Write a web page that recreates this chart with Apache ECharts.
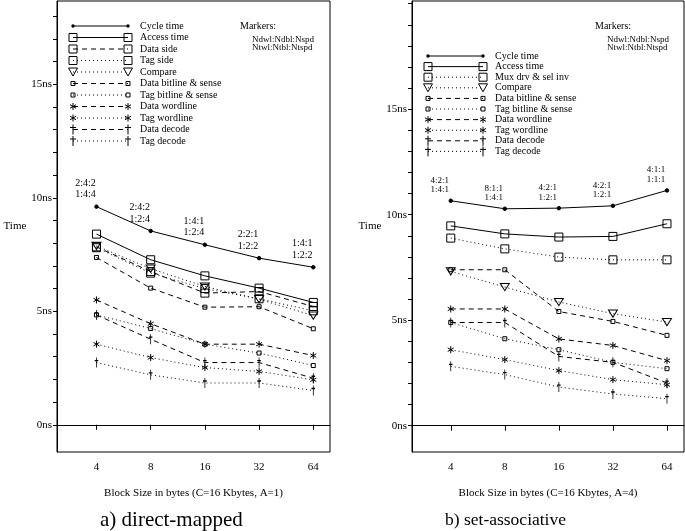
<!DOCTYPE html>
<head>
    <meta charset="utf-8">
    <script type="text/javascript" src="https://cdn.jsdelivr.net/npm/echarts@6/dist/echarts.min.js"></script>
    <style>
        html, body { margin: 0; padding: 0; background: #fff; }
    </style>
</head>
<body>
	<div id="main" style="width:685px; height:531px"></div>
	<script type="text/javascript">
		// block sizes (bytes), plotted on a log2 scale
		var blockSizes = [4, 8, 16, 32, 64];
		var timeLabels = [0, 5, 10, 15];

		// a) direct-mapped, times in ns
		var dmCycle        = [9.61, 8.54, 7.93, 7.34, 6.94];
		var dmAccess       = [8.40, 7.27, 6.56, 6.02, 5.39];
		var dmDataSide     = [7.84, 6.75, 5.80, 5.87, 5.21];
		var dmTagSide      = [7.80, 6.68, 6.00, 5.55, 5.02];
		var dmCompare      = [7.88, 6.88, 6.09, 5.53, 4.81];
		var dmDataBitline  = [7.37, 6.02, 5.18, 5.20, 4.23];
		var dmTagBitline   = [4.84, 4.24, 3.55, 3.16, 2.61];
		var dmDataWordline = [5.50, 4.45, 3.55, 3.55, 3.05];
		var dmTagWordline  = [3.55, 2.96, 2.52, 2.35, 1.98];
		var dmDataDecode   = [4.84, 3.77, 2.74, 2.74, 2.05];
		var dmTagDecode    = [2.74, 2.20, 1.84, 1.84, 1.51];
		var dmMarkers = ['2:4:2\n1:4:4', '2:4:2\n1:2:4', '1:4:1\n1:2:4', '2:2:1\n1:2:2', '1:4:1\n1:2:2'];

		// b) set-associative, times in ns
		var saCycle        = [10.66, 10.28, 10.31, 10.42, 11.15];
		var saAccess       = [9.47, 9.09, 8.94, 8.97, 9.57];
		var saMux          = [8.89, 8.38, 7.99, 7.86, 7.86];
		var saCompare      = [7.31, 6.57, 5.86, 5.31, 4.91];
		var saDataBitline  = [7.39, 7.39, 5.41, 4.94, 4.28];
		var saTagBitline   = [4.89, 4.12, 3.60, 3.00, 2.70];
		var saDataWordline = [5.53, 5.53, 4.11, 3.80, 3.08];
		var saTagWordline  = [3.60, 3.13, 2.61, 2.18, 1.94];
		var saDataDecode   = [4.89, 4.89, 3.28, 3.00, 2.02];
		var saTagDecode    = [2.81, 2.42, 1.83, 1.50, 1.28];
		var saMarkers = ['4:2:1\n1:4:1', '8:1:1\n1:4:1', '4:2:1\n1:2:1', '4:2:1\n1:2:1', '4:1:1\n1:1:1'];

		var FONT = 'Liberation Serif';
		var DASH = [5, 4];
		var DOT = [1, 3];

		var SYMS = {
			dot:    { path: null, size: [3.5, 3.5] },
			square: { path: 'M0,0 L10,0 L10,10 L0,10 Z', size: [8, 8] },
			tri:    { path: 'M0,0 L10,0 L5,9 Z', size: [9, 8] },
			small:  { path: 'M0,0 L10,0 L10,10 L0,10 Z', size: [4, 4] },
			star:   { path: 'M5,0 L5,10 M0.7,2.5 L9.3,7.5 M0.7,7.5 L9.3,2.5', size: [7, 7] },
			dagger: { path: 'M3,0 L3,10 M0,3 L6,3', size: [6, 10] }
		};

		var dmItems = [
			['Cycle time', dmCycle, null, 'dot'],
			['Access time', dmAccess, null, 'square'],
			['Data side', dmDataSide, DASH, 'square'],
			['Tag side', dmTagSide, DOT, 'square'],
			['Compare', dmCompare, DOT, 'tri'],
			['Data bitline & sense', dmDataBitline, DASH, 'small'],
			['Tag bitline & sense', dmTagBitline, DOT, 'small'],
			['Data wordline', dmDataWordline, DASH, 'star'],
			['Tag wordline', dmTagWordline, DOT, 'star'],
			['Data decode', dmDataDecode, DASH, 'dagger'],
			['Tag decode', dmTagDecode, DOT, 'dagger']
		];
		var saItems = [
			['Cycle time', saCycle, null, 'dot'],
			['Access time', saAccess, null, 'square'],
			['Mux drv & sel inv', saMux, DOT, 'square'],
			['Compare', saCompare, DOT, 'tri'],
			['Data bitline & sense', saDataBitline, DASH, 'small'],
			['Tag bitline & sense', saTagBitline, DOT, 'small'],
			['Data wordline', saDataWordline, DASH, 'star'],
			['Tag wordline', saTagWordline, DOT, 'star'],
			['Data decode', saDataDecode, DASH, 'dagger'],
			['Tag decode', saTagDecode, DOT, 'dagger']
		];

		var series = [];
		function addSeries(items, gi, markers, labelSize, labelLine, labelDy) {
			items.forEach(function (it, k) {
				var s = SYMS[it[3]];
				var ser = {
					name: it[0],
					type: 'line',
					xAxisIndex: gi,
					yAxisIndex: gi,
					data: it[1].map(function (v, i) { return [Math.log2(blockSizes[i]), v]; }),
					symbol: s.path ? 'path://' + s.path : 'circle',
					symbolSize: s.size,
					symbolKeepAspect: true,
					showAllSymbol: true,
					lineStyle: { color: '#000', width: 1, type: it[2] || 'solid' },
					itemStyle: {
						color: s.path ? 'rgba(0,0,0,0)' : '#000',
						borderColor: '#000',
						borderWidth: 1
					},
					emphasis: { disabled: true },
					animation: false
				};
				if (k === 0) {
					ser.label = {
						show: true,
						position: 'top',
						offset: [-11, labelDy],
						formatter: function (p) { return markers[p.dataIndex]; },
						fontFamily: FONT,
						fontSize: labelSize,
						lineHeight: labelLine,
						color: '#000'
					};
				}
				series.push(ser);
			});
		}
		addSeries(dmItems, 0, dmMarkers, 10, 11.5, 1);
		addSeries(saItems, 1, saMarkers, 9, 9.5, 1);

		// legend: a line with the series symbol at each end
		var graphics = [];
		var STROKE = { stroke: '#000', lineWidth: 1, fill: null };
		function seg(x1, y1, x2, y2) {
			return { type: 'line', shape: { x1: x1, y1: y1, x2: x2, y2: y2 }, style: { stroke: '#000', lineWidth: 1 } };
		}
		function legendSymbol(kind, cx, cy) {
			if (kind === 'dot') {
				return [{ type: 'circle', shape: { cx: cx, cy: cy, r: 1.7 }, style: { fill: '#000' } }];
			}
			if (kind === 'square' || kind === 'small') {
				var h = kind === 'square' ? 4 : 2;
				return [{ type: 'rect', shape: { x: cx - h, y: cy - h, width: 2 * h, height: 2 * h }, style: STROKE }];
			}
			if (kind === 'tri') {
				return [{ type: 'polygon', shape: { points: [[cx - 4.5, cy - 4], [cx + 4.5, cy - 4], [cx, cy + 4]] }, style: STROKE }];
			}
			if (kind === 'star') {
				return [seg(cx, cy - 3.5, cx, cy + 3.5), seg(cx - 3, cy - 1.75, cx + 3, cy + 1.75), seg(cx - 3, cy + 1.75, cx + 3, cy - 1.75)];
			}
			return [seg(cx, cy - 5, cx, cy + 5), seg(cx - 3, cy - 2, cx + 3, cy - 2)];
		}
		function addLegend(items, x1, x2, tx, y0, step) {
			items.forEach(function (it, k) {
				var y = y0 + k * step;
				graphics.push({ type: 'line', shape: { x1: x1, y1: y, x2: x2, y2: y },
					style: { stroke: '#000', lineWidth: 1, lineDash: it[2] || null } });
				graphics = graphics.concat(legendSymbol(it[3], x1, y), legendSymbol(it[3], x2, y));
				graphics.push({ type: 'text', x: tx, y: y,
					style: { text: it[0], fontFamily: FONT, fontSize: 10, fill: '#000', verticalAlign: 'middle' } });
			});
		}
		function addMarkersNote(x, y) {
			graphics.push({ type: 'text', x: x, y: y, style: { text: 'Markers:', fontFamily: FONT, fontSize: 10, fill: '#000', verticalAlign: 'middle' } });
			graphics.push({ type: 'text', x: x + 12, y: y + 14, style: { text: 'Ndwl:Ndbl:Nspd', fontFamily: FONT, fontSize: 9, fill: '#000', verticalAlign: 'middle' } });
			graphics.push({ type: 'text', x: x + 12, y: y + 21.5, style: { text: 'Ntwl:Ntbl:Ntspd', fontFamily: FONT, fontSize: 9, fill: '#000', verticalAlign: 'middle' } });
		}
		addLegend(dmItems, 73, 128, 140, 26, 11.5);
		addLegend(saItems, 428, 483, 495, 56, 10.6);
		addMarkersNote(240, 26);
		addMarkersNote(595, 26);

		function yAxis(gi, min, max, gap) {
			var ticks = [];
			for (var t = 0; t <= Math.floor(max); t++) ticks.push(t);
			return {
				type: 'value', gridIndex: gi, min: min, max: max,
				name: 'Time', nameLocation: 'middle', nameRotate: 0, nameGap: gap,
				nameTextStyle: { fontFamily: FONT, fontSize: 11, color: '#000', padding: [28, 0, 0, 0] },
				axisLine: { show: true, lineStyle: { color: '#000' } },
				axisTick: { show: true, length: 4, customValues: ticks, lineStyle: { color: '#000' } },
				axisLabel: { customValues: timeLabels, formatter: function (v) { return v + 'ns'; },
					fontFamily: FONT, fontSize: 11, color: '#000', margin: 5 },
				splitLine: { show: false }
			};
		}
		function xAxis(gi, min, max, title) {
			var pos = blockSizes.map(function (b) { return Math.log2(b); });
			return {
				type: 'value', gridIndex: gi, min: min, max: max,
				name: title, nameLocation: 'middle', nameGap: 36,
				nameTextStyle: { fontFamily: FONT, fontSize: 11, color: '#000' },
				axisLine: { show: true, lineStyle: { color: '#000' } },
				axisTick: { show: true, length: 5, customValues: pos, lineStyle: { color: '#000' } },
				axisLabel: { customValues: pos, formatter: function (v) { return String(Math.round(Math.pow(2, v))); },
					fontFamily: FONT, fontSize: 11, color: '#000', margin: 10 },
				splitLine: { show: false }
			};
		}

		var myChart = echarts.init(document.getElementById('main'));
		var option = {
			backgroundColor: '#fff',
			animation: false,
			title: [
				{ text: 'a) direct-mapped', left: 95, top: 505, textStyle: { fontFamily: FONT, fontSize: 21, fontWeight: 'normal', color: '#000' } },
				{ text: 'b) set-associative', left: 440, top: 506, textStyle: { fontFamily: FONT, fontSize: 17.5, fontWeight: 'normal', color: '#000' } }
			],
			grid: [
				{ left: 57, right: 355, top: 1, bottom: 79, show: true, borderColor: '#000', borderWidth: 1 },
				{ left: 412, right: 1, top: 1, bottom: 79, show: true, borderColor: '#000', borderWidth: 1 }
			],
			xAxis: [
				xAxis(0, 1.272, 6.308, 'Block Size in bytes (C=16 Kbytes, A=1)'),
				xAxis(1, 1.283, 6.315, 'Block Size in bytes (C=16 Kbytes, A=4)')
			],
			yAxis: [
				yAxis(0, -1.2, 18.67, 22),
				yAxis(1, -1.25, 20.13, 28)
			],
			series: series,
			graphic: graphics
		};
		myChart.setOption(option);
	</script>
</body>
